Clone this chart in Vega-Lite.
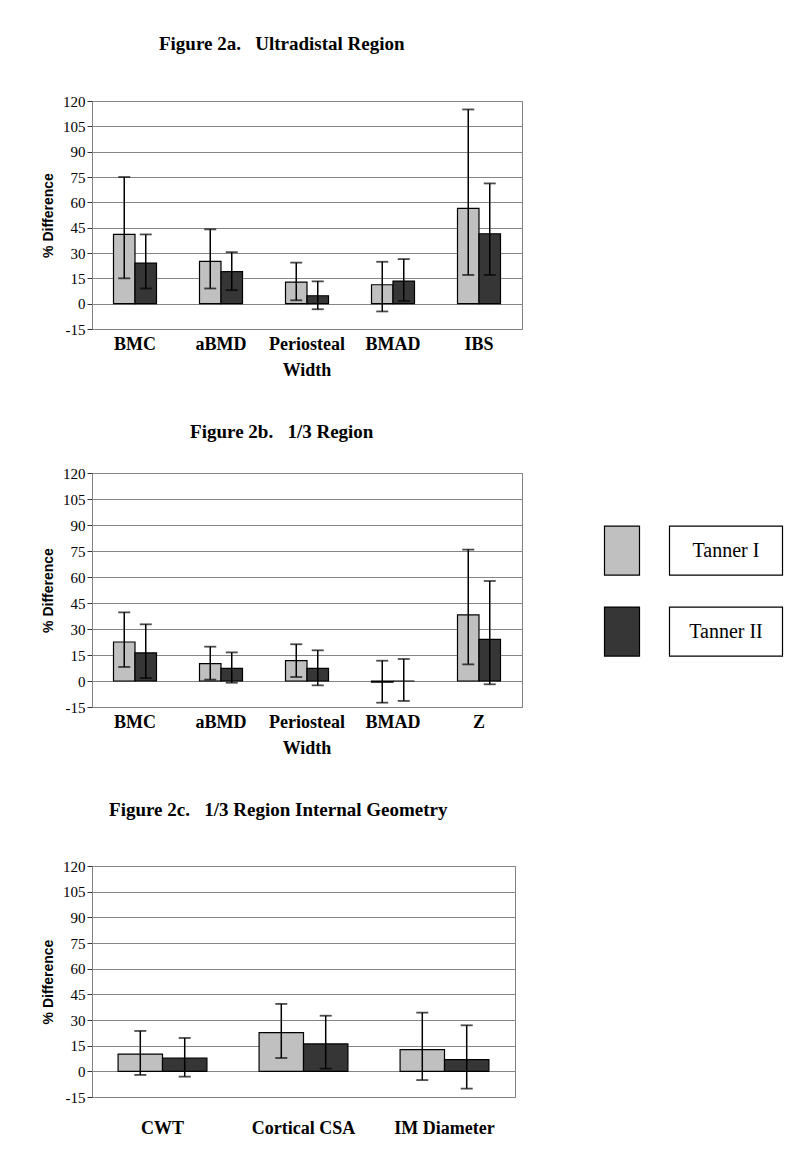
{
  "$schema": "https://vega.github.io/schema/vega-lite/v6.json",
  "background": "white",
  "padding": {"left": 41, "top": 34, "right": 5, "bottom": 5},
  "datasets": {
    "bars": [
      {"panel": "a", "cat": "BMC", "series": "Tanner I", "value": 41, "lo": 15, "hi": 75},
      {"panel": "a", "cat": "BMC", "series": "Tanner II", "value": 24, "lo": 9, "hi": 41},
      {"panel": "a", "cat": "aBMD", "series": "Tanner I", "value": 25, "lo": 9, "hi": 44},
      {"panel": "a", "cat": "aBMD", "series": "Tanner II", "value": 19, "lo": 8, "hi": 30.5},
      {"panel": "a", "cat": "Periosteal Width", "series": "Tanner I", "value": 12.8, "lo": 2, "hi": 24.3},
      {"panel": "a", "cat": "Periosteal Width", "series": "Tanner II", "value": 4.7, "lo": -3.3, "hi": 13.2},
      {"panel": "a", "cat": "BMAD", "series": "Tanner I", "value": 11.2, "lo": -4.6, "hi": 24.8},
      {"panel": "a", "cat": "BMAD", "series": "Tanner II", "value": 13.4, "lo": 1.6, "hi": 26.4},
      {"panel": "a", "cat": "IBS", "series": "Tanner I", "value": 56.4, "lo": 17, "hi": 115},
      {"panel": "a", "cat": "IBS", "series": "Tanner II", "value": 41.4, "lo": 17, "hi": 71.2},
      {"panel": "b", "cat": "BMC", "series": "Tanner I", "value": 22.5, "lo": 8.1, "hi": 39.6},
      {"panel": "b", "cat": "BMC", "series": "Tanner II", "value": 16.2, "lo": 1.7, "hi": 32.7},
      {"panel": "b", "cat": "aBMD", "series": "Tanner I", "value": 10, "lo": 0.8, "hi": 19.8},
      {"panel": "b", "cat": "aBMD", "series": "Tanner II", "value": 7.3, "lo": -1, "hi": 16.5},
      {"panel": "b", "cat": "Periosteal Width", "series": "Tanner I", "value": 11.7, "lo": 2.3, "hi": 21.2},
      {"panel": "b", "cat": "Periosteal Width", "series": "Tanner II", "value": 7.3, "lo": -2.5, "hi": 17.7},
      {"panel": "b", "cat": "BMAD", "series": "Tanner I", "value": -0.7, "lo": -12.5, "hi": 11.7},
      {"panel": "b", "cat": "BMAD", "series": "Tanner II", "value": 0, "lo": -11.5, "hi": 12.7},
      {"panel": "b", "cat": "Z", "series": "Tanner I", "value": 38.1, "lo": 9.6, "hi": 75.8},
      {"panel": "b", "cat": "Z", "series": "Tanner II", "value": 24, "lo": -1.9, "hi": 57.7},
      {"panel": "c", "cat": "CWT", "series": "Tanner I", "value": 10.1, "lo": -2.1, "hi": 23.6},
      {"panel": "c", "cat": "CWT", "series": "Tanner II", "value": 7.8, "lo": -3.1, "hi": 19.5},
      {"panel": "c", "cat": "Cortical CSA", "series": "Tanner I", "value": 22.6, "lo": 7.8, "hi": 39.4},
      {"panel": "c", "cat": "Cortical CSA", "series": "Tanner II", "value": 16, "lo": 1.6, "hi": 32.5},
      {"panel": "c", "cat": "IM Diameter", "series": "Tanner I", "value": 12.7, "lo": -5.1, "hi": 34.3},
      {"panel": "c", "cat": "IM Diameter", "series": "Tanner II", "value": 6.8, "lo": -10.1, "hi": 26.9}
    ],
    "legend": [
      {"series": "Tanner I"},
      {"series": "Tanner II"}
    ]
  },
  "config": {
    "view": {"stroke": "#808080", "strokeWidth": 1},
    "title": {"font": "Liberation Serif", "fontSize": 19, "fontWeight": "bold", "color": "black", "anchor": "middle", "frame": "bounds", "offset": 40},
    "axisY": {
      "grid": true, "gridColor": "#868686", "gridWidth": 1,
      "labelFont": "Liberation Serif", "labelFontSize": 15, "labelColor": "black",
      "labelExpr": "'' + datum.value",
      "tickSize": 5, "tickColor": "#333333", "domainColor": "#808080",
      "titleFont": "Liberation Sans", "titleFontSize": 14, "titleFontWeight": "bold", "titleColor": "black", "titlePadding": 7
    },
    "axisX": {
      "labelFont": "Liberation Serif", "labelFontSize": 18, "labelFontWeight": "bold", "labelColor": "black",
      "labelAngle": 0, "ticks": false, "domainColor": "#808080", "labelPadding": 6, "labelLineHeight": 26,
      "labelExpr": "datum.value == 'Periosteal Width' ? ['Periosteal', 'Width'] : datum.value"
    }
  },
  "resolve": {"scale": {"xOffset": "independent", "x": "independent"}},
  "spacing": 42,
  "vconcat": [
    {
      "title": {"text": "Figure 2a.\u00a0\u00a0\u00a0Ultradistal Region"},
      "width": 430, "height": 228,
      "data": {"name": "bars"},
      "transform": [{"filter": "datum.panel == 'a'"}],
      "encoding": {
        "x": {"field": "cat", "type": "nominal", "sort": ["BMC", "aBMD", "Periosteal Width", "BMAD", "IBS"], "scale": {"paddingInner": 0.5, "paddingOuter": 0.25}, "title": null},
        "xOffset": {"field": "series", "type": "nominal", "sort": ["Tanner I", "Tanner II"]}
      },
      "layer": [
        {"mark": {"type": "bar", "stroke": "black", "strokeWidth": 1.2},
         "encoding": {
           "y": {"field": "value", "type": "quantitative", "scale": {"domain": [-15, 120], "nice": false}, "title": "% Difference", "axis": {"values": [-15, 0, 15, 30, 45, 60, 75, 90, 105, 120]}},
           "fill": {"field": "series", "type": "nominal", "scale": {"domain": ["Tanner I", "Tanner II"], "range": ["#c0c0c0", "#363636"]}, "legend": null}
         }},
        {"mark": {"type": "rule", "color": "black", "strokeWidth": 1.5},
         "encoding": {"y": {"field": "lo", "type": "quantitative", "title": "% Difference", "axis": {"values": [-15, 0, 15, 30, 45, 60, 75, 90, 105, 120]}}, "y2": {"field": "hi"}}},
        {"mark": {"type": "tick", "color": "black", "thickness": 1.8, "size": 12},
         "encoding": {"y": {"field": "hi", "type": "quantitative", "title": "% Difference", "axis": {"values": [-15, 0, 15, 30, 45, 60, 75, 90, 105, 120]}}}},
        {"mark": {"type": "tick", "color": "black", "thickness": 1.8, "size": 12},
         "encoding": {"y": {"field": "lo", "type": "quantitative", "title": "% Difference", "axis": {"values": [-15, 0, 15, 30, 45, 60, 75, 90, 105, 120]}}}}
      ]
    },
    {
      "spacing": 47,
      "resolve": {"scale": {"xOffset": "independent", "x": "independent"}},
      "hconcat": [
        {
          "title": {"text": "Figure 2b.\u00a0\u00a0\u00a01/3 Region", "offset": 24},
          "width": 430, "height": 234,
          "data": {"name": "bars"},
          "transform": [{"filter": "datum.panel == 'b'"}],
          "encoding": {
            "x": {"field": "cat", "type": "nominal", "sort": ["BMC", "aBMD", "Periosteal Width", "BMAD", "Z"], "scale": {"paddingInner": 0.5, "paddingOuter": 0.25}, "title": null},
            "xOffset": {"field": "series", "type": "nominal", "sort": ["Tanner I", "Tanner II"]}
          },
          "layer": [
            {"mark": {"type": "bar", "stroke": "black", "strokeWidth": 1.2},
             "encoding": {
               "y": {"field": "value", "type": "quantitative", "scale": {"domain": [-15, 120], "nice": false}, "title": "% Difference", "axis": {"values": [-15, 0, 15, 30, 45, 60, 75, 90, 105, 120]}},
               "fill": {"field": "series", "type": "nominal", "scale": {"domain": ["Tanner I", "Tanner II"], "range": ["#c0c0c0", "#363636"]}, "legend": null}
             }},
            {"mark": {"type": "rule", "color": "black", "strokeWidth": 1.5},
             "encoding": {"y": {"field": "lo", "type": "quantitative", "title": "% Difference", "axis": {"values": [-15, 0, 15, 30, 45, 60, 75, 90, 105, 120]}}, "y2": {"field": "hi"}}},
            {"mark": {"type": "tick", "color": "black", "thickness": 1.8, "size": 12},
             "encoding": {"y": {"field": "hi", "type": "quantitative", "title": "% Difference", "axis": {"values": [-15, 0, 15, 30, 45, 60, 75, 90, 105, 120]}}}},
            {"mark": {"type": "tick", "color": "black", "thickness": 1.8, "size": 12},
             "encoding": {"y": {"field": "lo", "type": "quantitative", "title": "% Difference", "axis": {"values": [-15, 0, 15, 30, 45, 60, 75, 90, 105, 120]}}}}
          ]
        },
        {
          "width": 208, "height": 250,
          "view": {"stroke": null},
          "data": {"name": "legend"},
          "encoding": {
            "y": {"field": "series", "type": "nominal", "sort": ["Tanner I", "Tanner II"], "scale": {"paddingInner": 0.395, "paddingOuter": 0.741, "align": 0.442}, "axis": null}
          },
          "layer": [
            {"mark": {"type": "bar", "width": 35, "stroke": "black", "strokeWidth": 1.2},
             "encoding": {
               "x": {"datum": "swatch", "type": "nominal", "scale": {"domain": ["swatch", "label"], "paddingInner": 0, "paddingOuter": 0}, "axis": null},
               "fill": {"field": "series", "type": "nominal", "scale": {"domain": ["Tanner I", "Tanner II"], "range": ["#c0c0c0", "#363636"]}, "legend": null}
             }},
            {"mark": {"type": "bar", "width": 113, "fill": "white", "stroke": "black", "strokeWidth": 1.2},
             "encoding": {"x": {"datum": "label", "type": "nominal", "axis": null}}},
            {"mark": {"type": "text", "font": "Liberation Serif", "fontSize": 20, "color": "black", "align": "center", "baseline": "middle"},
             "encoding": {"x": {"datum": "label", "type": "nominal", "axis": null}, "text": {"field": "series"}}}
          ]
        }
      ]
    },
    {
      "title": {"text": "Figure 2c.\u00a0\u00a0\u00a01/3 Region Internal Geometry", "offset": 39},
      "width": 423, "height": 231,
      "data": {"name": "bars"},
      "transform": [{"filter": "datum.panel == 'c'"}],
      "encoding": {
        "x": {"field": "cat", "type": "nominal", "sort": ["CWT", "Cortical CSA", "IM Diameter"], "scale": {"paddingInner": 0.37, "paddingOuter": 0.185}, "title": null, "axis": {"labelPadding": 22}},
        "xOffset": {"field": "series", "type": "nominal", "sort": ["Tanner I", "Tanner II"]}
      },
      "layer": [
        {"mark": {"type": "bar", "stroke": "black", "strokeWidth": 1.2},
         "encoding": {
           "y": {"field": "value", "type": "quantitative", "scale": {"domain": [-15, 120], "nice": false}, "title": "% Difference", "axis": {"values": [-15, 0, 15, 30, 45, 60, 75, 90, 105, 120]}},
           "fill": {"field": "series", "type": "nominal", "scale": {"domain": ["Tanner I", "Tanner II"], "range": ["#c0c0c0", "#363636"]}, "legend": null}
         }},
        {"mark": {"type": "rule", "color": "black", "strokeWidth": 1.5},
         "encoding": {"y": {"field": "lo", "type": "quantitative", "title": "% Difference", "axis": {"values": [-15, 0, 15, 30, 45, 60, 75, 90, 105, 120]}}, "y2": {"field": "hi"}}},
        {"mark": {"type": "tick", "color": "black", "thickness": 1.8, "size": 12},
         "encoding": {"y": {"field": "hi", "type": "quantitative", "title": "% Difference", "axis": {"values": [-15, 0, 15, 30, 45, 60, 75, 90, 105, 120]}}}},
        {"mark": {"type": "tick", "color": "black", "thickness": 1.8, "size": 12},
         "encoding": {"y": {"field": "lo", "type": "quantitative", "title": "% Difference", "axis": {"values": [-15, 0, 15, 30, 45, 60, 75, 90, 105, 120]}}}}
      ]
    }
  ]
}
